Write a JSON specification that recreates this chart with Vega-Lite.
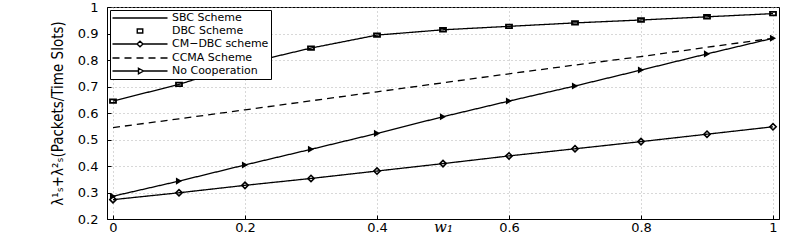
{
  "$schema": "https://vega.github.io/schema/vega-lite/v6.json",
  "autosize": {"type": "none"},
  "padding": {"left": 107, "top": 7, "right": 10, "bottom": 23},
  "width": 672,
  "height": 212,
  "background": "white",
  "data": {"values": [
    {"s": "SBC Scheme", "x": 0, "y": 0.645}, {"s": "SBC Scheme", "x": 0.1, "y": 0.708}, {"s": "SBC Scheme", "x": 0.2, "y": 0.786}, {"s": "SBC Scheme", "x": 0.3, "y": 0.845}, {"s": "SBC Scheme", "x": 0.4, "y": 0.894}, {"s": "SBC Scheme", "x": 0.5, "y": 0.914}, {"s": "SBC Scheme", "x": 0.6, "y": 0.927}, {"s": "SBC Scheme", "x": 0.7, "y": 0.94}, {"s": "SBC Scheme", "x": 0.8, "y": 0.951}, {"s": "SBC Scheme", "x": 0.9, "y": 0.963}, {"s": "SBC Scheme", "x": 1, "y": 0.975},
    {"s": "DBC Scheme", "x": 0, "y": 0.645}, {"s": "DBC Scheme", "x": 0.1, "y": 0.708}, {"s": "DBC Scheme", "x": 0.2, "y": 0.786}, {"s": "DBC Scheme", "x": 0.3, "y": 0.845}, {"s": "DBC Scheme", "x": 0.4, "y": 0.894}, {"s": "DBC Scheme", "x": 0.5, "y": 0.914}, {"s": "DBC Scheme", "x": 0.6, "y": 0.927}, {"s": "DBC Scheme", "x": 0.7, "y": 0.94}, {"s": "DBC Scheme", "x": 0.8, "y": 0.951}, {"s": "DBC Scheme", "x": 0.9, "y": 0.963}, {"s": "DBC Scheme", "x": 1, "y": 0.975},
    {"s": "CM\u2212DBC scheme", "x": 0, "y": 0.273}, {"s": "CM\u2212DBC scheme", "x": 0.1, "y": 0.299}, {"s": "CM\u2212DBC scheme", "x": 0.2, "y": 0.327}, {"s": "CM\u2212DBC scheme", "x": 0.3, "y": 0.353}, {"s": "CM\u2212DBC scheme", "x": 0.4, "y": 0.381}, {"s": "CM\u2212DBC scheme", "x": 0.5, "y": 0.409}, {"s": "CM\u2212DBC scheme", "x": 0.6, "y": 0.438}, {"s": "CM\u2212DBC scheme", "x": 0.7, "y": 0.465}, {"s": "CM\u2212DBC scheme", "x": 0.8, "y": 0.492}, {"s": "CM\u2212DBC scheme", "x": 0.9, "y": 0.52}, {"s": "CM\u2212DBC scheme", "x": 1, "y": 0.548},
    {"s": "CCMA Scheme", "x": 0, "y": 0.545}, {"s": "CCMA Scheme", "x": 0.1, "y": 0.578}, {"s": "CCMA Scheme", "x": 0.2, "y": 0.612}, {"s": "CCMA Scheme", "x": 0.3, "y": 0.646}, {"s": "CCMA Scheme", "x": 0.4, "y": 0.68}, {"s": "CCMA Scheme", "x": 0.5, "y": 0.714}, {"s": "CCMA Scheme", "x": 0.6, "y": 0.748}, {"s": "CCMA Scheme", "x": 0.7, "y": 0.781}, {"s": "CCMA Scheme", "x": 0.8, "y": 0.813}, {"s": "CCMA Scheme", "x": 0.9, "y": 0.848}, {"s": "CCMA Scheme", "x": 1, "y": 0.882},
    {"s": "No Cooperation", "x": 0, "y": 0.286}, {"s": "No Cooperation", "x": 0.1, "y": 0.343}, {"s": "No Cooperation", "x": 0.2, "y": 0.404}, {"s": "No Cooperation", "x": 0.3, "y": 0.463}, {"s": "No Cooperation", "x": 0.4, "y": 0.523}, {"s": "No Cooperation", "x": 0.5, "y": 0.586}, {"s": "No Cooperation", "x": 0.6, "y": 0.645}, {"s": "No Cooperation", "x": 0.7, "y": 0.702}, {"s": "No Cooperation", "x": 0.8, "y": 0.762}, {"s": "No Cooperation", "x": 0.9, "y": 0.823}, {"s": "No Cooperation", "x": 1, "y": 0.882}
  ]},
  "encoding": {
    "x": {"field": "x", "type": "quantitative",
      "scale": {"domain": [-0.00909, 1.00909], "nice": false, "zero": false},
      "axis": {"values": [0, 0.2, 0.4, 0.6, 0.8, 1], "format": ".1~f", "title": "w\u2081", "labelPadding": 6,
        "titleFont": "DejaVu Serif", "titleFontStyle": "italic", "titleFontWeight": "normal", "titleFontSize": 15, "titlePadding": -15}},
    "y": {"field": "y", "type": "quantitative",
      "scale": {"domain": [0.2, 1], "nice": false, "zero": false},
      "axis": {"values": [0.2, 0.3, 0.4, 0.5, 0.6, 0.7, 0.8, 0.9, 1], "format": ".1~f", "labelPadding": 13,
        "title": "\u03bb\u00b9\u209b+\u03bb\u00b2\u209b(Packets/Time Slots)",
        "titleFont": "DejaVu Sans Condensed", "titleFontWeight": "normal", "titleFontSize": 15, "titlePadding": 12}}
  },
  "layer": [
    {"transform": [{"filter": "datum.s != 'DBC Scheme'"}],
     "mark": {"type": "line", "color": "black", "strokeWidth": 1.3},
     "encoding": {"detail": {"field": "s"},
       "strokeDash": {"field": "s", "type": "nominal", "legend": null,
         "scale": {"domain": ["SBC Scheme", "CM\u2212DBC scheme", "CCMA Scheme", "No Cooperation"], "range": [[1, 0], [1, 0], [7, 5], [1, 0]]}}}},
    {"transform": [{"filter": "datum.s == 'DBC Scheme'"}],
     "mark": {"type": "point", "shape": "M-1,-0.6H1V0.6H-1Z", "size": 36, "color": "black", "filled": false, "strokeWidth": 1.8, "opacity": 1}},
    {"transform": [{"filter": "datum.s == 'CM\u2212DBC scheme'"}],
     "mark": {"type": "point", "shape": "diamond", "size": 40, "color": "black", "filled": false, "strokeWidth": 1.6, "opacity": 1}},
    {"transform": [{"filter": "datum.s == 'No Cooperation'"}],
     "mark": {"type": "point", "shape": "triangle-right", "size": 50, "color": "black", "filled": true, "opacity": 1}},
    {"transform": [{"filter": "datum.x < -1"}],
     "mark": {"type": "point", "color": "black", "filled": false, "opacity": 1},
     "encoding": {"shape": {"field": "s", "type": "nominal",
       "scale": {"domain": ["SBC Scheme", "DBC Scheme", "CM\u2212DBC scheme", "CCMA Scheme", "No Cooperation"],
         "range": ["M-5.5,0H5.5", "M-0.55,-0.4H0.55V0.4H-0.55Z", "M-5.5,0H-0.6M0.6,0H5.5M-0.6,0L0,-0.55L0.6,0L0,0.55Z", "M-5.5,0H-4.1M-3.1,0H-1.7M-0.7,0H0.7M1.7,0H3.1M4.1,0H5.5", "M-5.5,0H-0.3M-0.3,-0.55L0.7,0L-0.3,0.55ZM0.7,0H5.5"]},
       "legend": {"title": null, "orient": "top-left", "offset": 3, "symbolSize": 100, "symbolStrokeWidth": 1.4,
         "symbolOffset": 22, "labelOffset": 26,
         "labelFont": "DejaVu Sans", "labelFontSize": 11, "labelColor": "black",
         "fillColor": "white", "strokeColor": "black", "padding": 2, "rowPadding": 2, "symbolStrokeColor": "black"}}}}
  ],
  "config": {
    "view": {"stroke": "black", "strokeWidth": 1},
    "axis": {"labelFont": "DejaVu Sans", "labelFontSize": 13, "labelColor": "black", "titleColor": "black",
      "domainColor": "black", "tickColor": "black", "tickSize": -4,
      "grid": true, "gridColor": "#b0b0b0", "gridDash": [1, 3], "gridWidth": 1}
  }
}
